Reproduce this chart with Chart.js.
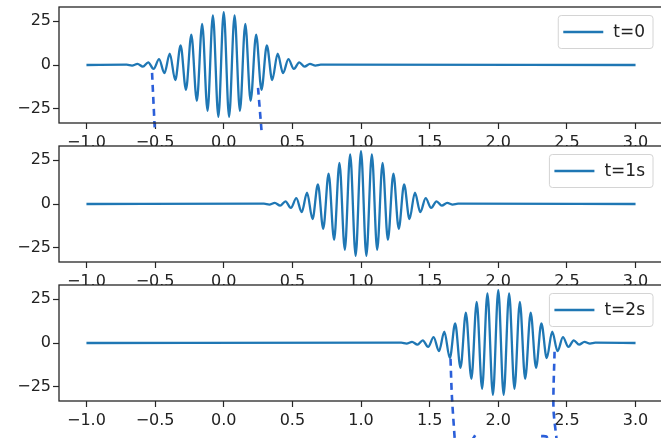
<!DOCTYPE html>
<html>
<head>
<meta charset="utf-8">
<script src="https://cdn.jsdelivr.net/npm/chart.js@4.4.1/dist/chart.umd.min.js"></script>
<style>
  html, body { margin: 0; padding: 0; background: #ffffff; }
  #wrap { position: relative; width: 661px; height: 438px; overflow: hidden; background: #ffffff; }
  canvas { position: absolute; left: 0; }
</style>
</head>
<body>
<div id="wrap">
  <canvas id="p1" width="670" height="160" style="top:0px"></canvas>
  <canvas id="p2" width="670" height="160" style="top:139px"></canvas>
  <canvas id="p3" width="670" height="160" style="top:278px"></canvas>
</div>
<script>
// ---------- data ----------
const seriesLabels = ['t=0', 't=1s', 't=2s'];

// extrema of the wave packet (plus the flat ends), t = 0
const waveX_t0 = [-1.0, -0.707, -0.668, -0.628, -0.589, -0.550, -0.511, -0.471, -0.432, -0.393, -0.353, -0.314, -0.275, -0.236, -0.196, -0.157, -0.118, -0.079, -0.039,
  0.000, 0.039, 0.079, 0.118, 0.157, 0.196, 0.236, 0.275, 0.314, 0.353, 0.393, 0.432, 0.471, 0.511, 0.550, 0.589, 0.628, 0.668, 0.707, 3.0];
const waveY_t0 = [0, 0.2, -0.3, 0.6, -0.9, 1.5, -2.2, 3.3, -4.6, 6.4, -8.6, 11.2, -14.1, 17.2, -20.4, 23.4, -26.1, 28.2, -29.5,
  30.0, -29.5, 28.2, -26.1, 23.4, -20.4, 17.2, -14.1, 11.2, -8.6, 6.4, -4.6, 3.3, -2.2, 1.5, -0.9, 0.6, -0.3, 0.2, 0];

// t = 1 s
const waveX_t1 = [-1.0, 0.293, 0.332, 0.372, 0.411, 0.450, 0.489, 0.529, 0.568, 0.607, 0.647, 0.686, 0.725, 0.764, 0.804, 0.843, 0.882, 0.921, 0.961,
  1.000, 1.039, 1.079, 1.118, 1.157, 1.196, 1.236, 1.275, 1.314, 1.353, 1.393, 1.432, 1.471, 1.511, 1.550, 1.589, 1.628, 1.668, 1.707, 3.0];
const waveY_t1 = [0, 0.2, -0.3, 0.6, -0.9, 1.5, -2.2, 3.3, -4.6, 6.4, -8.6, 11.2, -14.1, 17.2, -20.4, 23.4, -26.1, 28.2, -29.5,
  30.0, -29.5, 28.2, -26.1, 23.4, -20.4, 17.2, -14.1, 11.2, -8.6, 6.4, -4.6, 3.3, -2.2, 1.5, -0.9, 0.6, -0.3, 0.2, 0];

// t = 2 s
const waveX_t2 = [-1.0, 1.293, 1.332, 1.372, 1.411, 1.450, 1.489, 1.529, 1.568, 1.607, 1.647, 1.686, 1.725, 1.764, 1.804, 1.843, 1.882, 1.921, 1.961,
  2.000, 2.039, 2.079, 2.118, 2.157, 2.196, 2.236, 2.275, 2.314, 2.353, 2.393, 2.432, 2.471, 2.511, 2.550, 2.589, 2.628, 2.668, 2.707, 3.0];
const waveY_t2 = [0, 0.2, -0.3, 0.6, -0.9, 1.5, -2.2, 3.3, -4.6, 6.4, -8.6, 11.2, -14.1, 17.2, -20.4, 23.4, -26.1, 28.2, -29.5,
  30.0, -29.5, 28.2, -26.1, 23.4, -20.4, 17.2, -14.1, 11.2, -8.6, 6.4, -4.6, 3.3, -2.2, 1.5, -0.9, 0.6, -0.3, 0.2, 0];

// axis ticks
const xTickValues = [-1.0, -0.5, 0.0, 0.5, 1.0, 1.5, 2.0, 2.5, 3.0];
const xTickLabels = ['\u22121.0', '\u22120.5', '0.0', '0.5', '1.0', '1.5', '2.0', '2.5', '3.0'];
const yTickValues = [-25, 0, 25];
const yTickLabels = ['\u221225', '0', '25'];
const xRange = [-1.2, 3.2];
const yRange = [-33, 33];

// hand-drawn blue dashed marks (data units)
const marksX_t0 = [[-0.522, -0.503], [0.250, 0.275]];
const marksY_t0 = [[-4.5, -35.5], [-13.0, -37.0]];
const marksX_t2 = [[1.652, 1.662, 1.683], [2.410, 2.402, 2.425], [1.832, 1.812], [2.312, 2.350, 2.362]];
const marksY_t2 = [[-9.0, -30.0, -55.0], [-5.0, -37.0, -55.0], [-52.5, -55.0], [-53.0, -53.2, -55.0]];

// ---------- rendering ----------
Chart.defaults.font.family = "'DejaVu Sans', sans-serif";
Chart.defaults.color = '#222222';

const LINE = '#1f77b4';
const SPINE = '#262626';
const MARK = '#2b5fd9';

const framePlugin = {
  id: 'frame',
  beforeDraw(chart) {
    const { ctx, chartArea: a } = chart;
    ctx.save();
    ctx.fillStyle = '#ffffff';
    ctx.fillRect(a.left, a.top, a.right - a.left, a.bottom - a.top);
    ctx.restore();
  },
  afterDraw(chart) {
    const { ctx, chartArea: a } = chart;
    const label = chart.data.datasets[0].label;
    ctx.save();
    ctx.font = "17px 'DejaVu Sans'";
    const tw = ctx.measureText(label).width;
    const right = a.right - 10;
    const w = 5 + 40 + 10 + tw + 8;
    const left = right - w;
    const top = a.top + 8.5;
    const h = 33;
    ctx.beginPath();
    ctx.roundRect(left, top, w, h, 3);
    ctx.fillStyle = 'rgba(255,255,255,0.8)';
    ctx.fill();
    ctx.strokeStyle = '#d4d4d4';
    ctx.lineWidth = 1;
    ctx.stroke();
    ctx.beginPath();
    ctx.moveTo(left + 5, top + h / 2);
    ctx.lineTo(left + 45, top + h / 2);
    ctx.strokeStyle = LINE;
    ctx.lineWidth = 2.4;
    ctx.stroke();
    ctx.fillStyle = '#222222';
    ctx.textBaseline = 'middle';
    ctx.textAlign = 'left';
    ctx.fillText(label, left + 55, top + h / 2 + 1);
    ctx.strokeStyle = SPINE;
    ctx.lineWidth = 1.3;
    ctx.strokeRect(a.left, a.top, a.right - a.left, a.bottom - a.top);
    ctx.restore();
  }
};

function pts(xs, ys) { return xs.map((x, i) => ({ x: x, y: ys[i] })); }

function makePanel(id, xs, ys, label, mx, my) {
  const datasets = [{
    label: label,
    data: pts(xs, ys),
    borderColor: LINE,
    borderWidth: 2.3,
    pointRadius: 0,
    cubicInterpolationMode: 'monotone',
    fill: false
  }];
  (mx || []).forEach((xsm, k) => {
    datasets.push({
      label: '',
      data: pts(xsm, my[k]),
      borderColor: MARK,
      borderWidth: 2.6,
      borderDash: [7, 5],
      pointRadius: 0,
      tension: 0.3,
      clip: false,
      fill: false
    });
  });
  return new Chart(document.getElementById(id), {
    type: 'line',
    data: { datasets: datasets },
    options: {
      responsive: false,
      animation: false,
      devicePixelRatio: 1,
      layout: { padding: { top: 7, right: 7, left: 0, bottom: 0 } },
      plugins: { legend: { display: false }, tooltip: { enabled: false } },
      scales: {
        x: {
          type: 'linear',
          min: xRange[0], max: xRange[1],
          afterFit(s) { s.height = 37; s.paddingLeft = 0; s.paddingRight = 0; },
          afterBuildTicks(s) { s.ticks = xTickValues.map(v => ({ value: v })); },
          ticks: {
            autoSkip: false, maxRotation: 0, padding: 4,
            font: { size: 16 }, color: '#222222',
            callback: (v, i) => xTickLabels[i]
          },
          grid: { drawOnChartArea: false, drawTicks: true, tickLength: 6, tickColor: SPINE, tickWidth: 1.2 },
          border: { display: false }
        },
        y: {
          type: 'linear',
          min: yRange[0], max: yRange[1],
          afterFit(s) { s.width = 59; s.paddingTop = 0; s.paddingBottom = 0; },
          afterBuildTicks(s) { s.ticks = yTickValues.map(v => ({ value: v })); },
          ticks: {
            padding: 2,
            font: { size: 16 }, color: '#222222',
            callback: (v, i) => yTickLabels[i]
          },
          grid: { drawOnChartArea: false, drawTicks: true, tickLength: 6, tickColor: SPINE, tickWidth: 1.2 },
          border: { display: false }
        }
      }
    },
    plugins: [framePlugin]
  });
}

makePanel('p1', waveX_t0, waveY_t0, seriesLabels[0], marksX_t0, marksY_t0);
makePanel('p2', waveX_t1, waveY_t1, seriesLabels[1]);
makePanel('p3', waveX_t2, waveY_t2, seriesLabels[2], marksX_t2, marksY_t2);
</script>
</body>
</html>
